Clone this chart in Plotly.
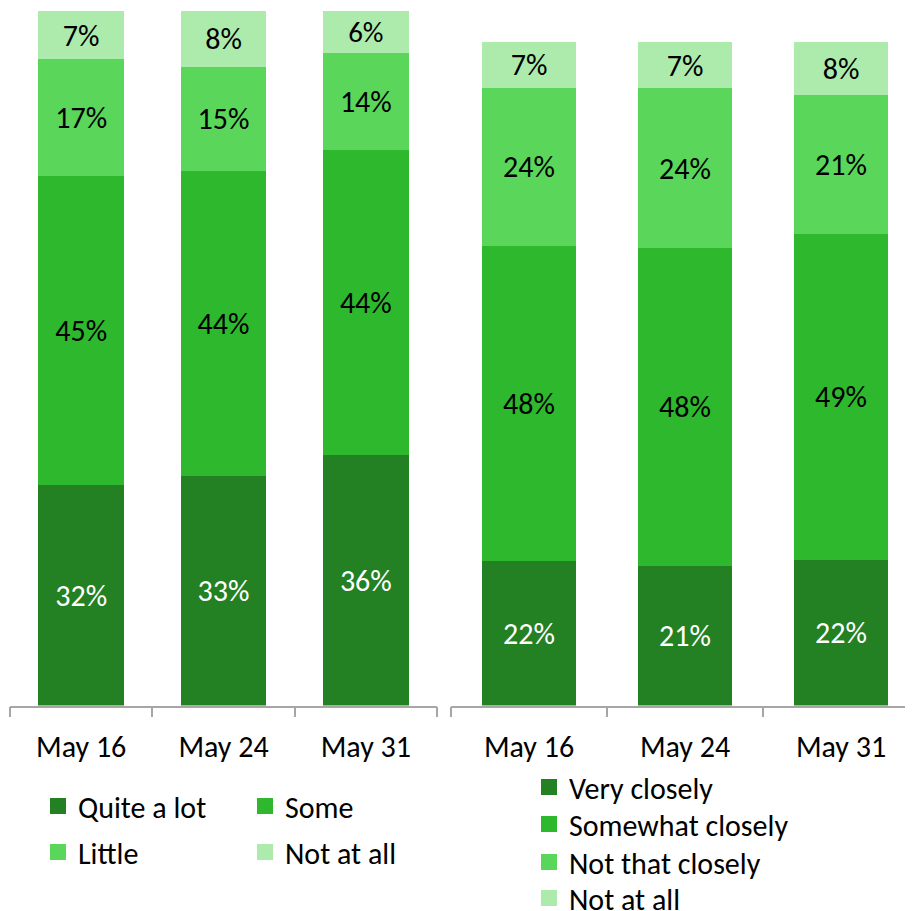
import plotly.graph_objects as go

dates = ["May 16", "May 24", "May 31"]

left_names = ["Quite a lot", "Some", "Little", "Not at all"]
quite_a_lot = [32, 33, 36]
some = [45, 44, 44]
little = [17, 15, 14]
not_at_all_left = [7, 8, 6]

right_names = ["Very closely", "Somewhat closely", "Not that closely", "Not at all"]
very_closely = [22, 21, 22]
somewhat_closely = [48, 48, 49]
not_that_closely = [24, 24, 21]
not_at_all_right = [7, 7, 8]

colors = ["#238023", "#2EB82E", "#5AD65A", "#ADEBAD"]
text_colors = ["white", "black", "black", "black"]
FONT = "Calibri, Carlito, Lato, sans-serif"
FS = 30

fig = go.Figure()

left_series = [quite_a_lot, some, little, not_at_all_left]
right_series = [very_closely, somewhat_closely, not_that_closely, not_at_all_right]

for i, (name, vals) in enumerate(zip(left_names, left_series)):
    fig.add_trace(go.Bar(
        x=dates, y=vals, name=name, xaxis="x", yaxis="y",
        marker=dict(color=colors[i], line=dict(width=0)),
        text=[f"{v}%" for v in vals], textposition="inside",
        insidetextanchor="middle", textangle=0,
        textfont=dict(family=FONT, size=FS, color=text_colors[i]),
        showlegend=False, hoverinfo="skip",
    ))

for i, (name, vals) in enumerate(zip(right_names, right_series)):
    fig.add_trace(go.Bar(
        x=dates, y=vals, name=name, xaxis="x2", yaxis="y2",
        marker=dict(color=colors[i], line=dict(width=0)),
        text=[f"{v}%" for v in vals], textposition="inside",
        insidetextanchor="middle", textangle=0,
        textfont=dict(family=FONT, size=FS, color=text_colors[i]),
        showlegend=False, hoverinfo="skip",
    ))

# legend entries (square swatches)
left_legend_ids = ["legend", "legend", "legend2", "legend2"]
for i, name in enumerate(left_names):
    fig.add_trace(go.Scatter(
        x=[None], y=[None], mode="markers", name=name, xaxis="x", yaxis="y",
        marker=dict(symbol="square", size=18, color=colors[i], line=dict(width=0)),
        legend=left_legend_ids[i], showlegend=True,
    ))
right_legend_ids = ["legend3", "legend4", "legend5", "legend6"]
for i, name in enumerate(right_names):
    fig.add_trace(go.Scatter(
        x=[None], y=[None], mode="markers", name=name, xaxis="x2", yaxis="y2",
        marker=dict(symbol="square", size=18, color=colors[i], line=dict(width=0)),
        legend=right_legend_ids[i], showlegend=True,
    ))

# page body has an 8px margin; size the figure so it fits the 913x911 window
OFF = 8
W, H = 913 - OFF, 911 - OFF


def px(x):
    return (x - OFF) / W


def py(y):
    return 1 - (y - OFF) / H


axis_common = dict(
    type="category", showline=True, linecolor="#a6a6a6", linewidth=1.5,
    ticks="outside", ticklen=10, tickcolor="#a6a6a6", tickwidth=1.5,
    tickson="boundaries", showgrid=False, zeroline=False,
    tickfont=dict(family=FONT, size=FS, color="black"),
    ticklabelstandoff=14, fixedrange=True, automargin=False,
)
base = py(705.5)
leg_common = dict(font=dict(family=FONT, size=FS, color="black"),
                  bgcolor="rgba(0,0,0,0)", itemsizing="trace", traceorder="normal")

right_rows = [787, 824, 862, 898]
right_legends = {
    lid: dict(orientation="v", x=px(529), y=py(yc), xanchor="left", yanchor="middle", **leg_common)
    for lid, yc in zip(right_legend_ids, right_rows)
}

fig.update_layout(
    width=W, height=H,
    margin=dict(l=0, r=0, t=0, b=0, autoexpand=False),
    paper_bgcolor="white", plot_bgcolor="white",
    barmode="stack", barnorm="percent", bargap=0.4,
    font=dict(family=FONT, size=FS, color="black"),
    xaxis=dict(domain=[px(10), px(437)], range=[-0.5, 2.5], anchor="y", **axis_common),
    yaxis=dict(domain=[base, py(11)], range=[0, 100], visible=False, anchor="x"),
    xaxis2=dict(domain=[px(451), 1.0], range=[-0.5, -0.5 + (913 - 451) / 156], anchor="y2", **axis_common),
    yaxis2=dict(domain=[base, py(42)], range=[0, 100], visible=False, anchor="x2"),
    legend=dict(orientation="h", x=px(38), y=py(806), xanchor="left", yanchor="middle",
                entrywidth=162, **leg_common),
    legend2=dict(orientation="h", x=px(38), y=py(852), xanchor="left", yanchor="middle",
                 entrywidth=162, **leg_common),
    **right_legends,
)

fig.write_html("out.html")
